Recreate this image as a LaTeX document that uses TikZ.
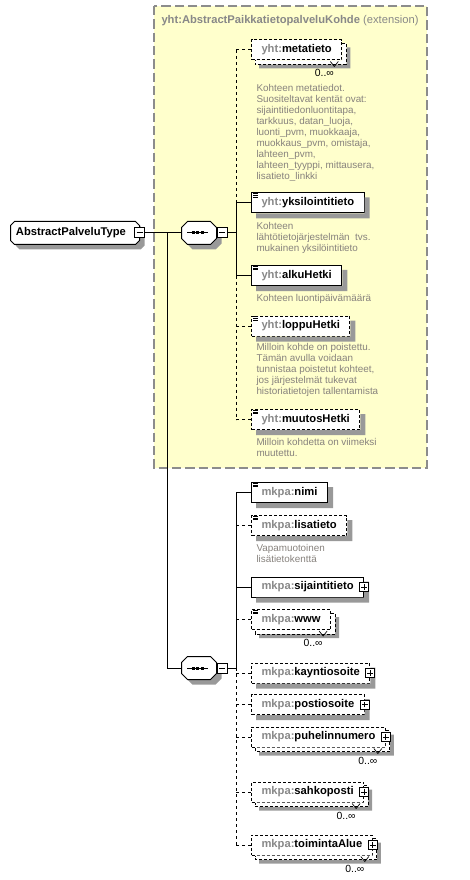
\documentclass[tikz,border=0pt]{standalone}
\usepackage{fontspec}
\setmainfont{Liberation Sans}

\definecolor{extfill}{RGB}{255,255,204}
\definecolor{extline}{RGB}{140,140,140}
\definecolor{prefixgray}{RGB}{136,136,136}
\definecolor{notegray}{RGB}{135,130,125}
\colorlet{shadowtone}{black!40}

% outline with cut corners round node #1, cut #2
\newcommand\octpath[2]{([xshift=#2]#1.north west) -- ([xshift=-#2]#1.north east)
  -- ([yshift=-#2]#1.north east) -- ([yshift=#2]#1.south east) -- ([xshift=-#2]#1.south east)
  -- ([xshift=#2]#1.south west) -- ([yshift=#2]#1.south west) -- ([yshift=-#2]#1.north west) -- cycle}
% shadow strips right of and below a box
\newcommand\dropshade[1]{%
  \fill[shadowtone] ([shift={(0,5)}]#1.north east) rectangle ([shift={(5,5)}]#1.south east)
    ([shift={(5,0)}]#1.south west) rectangle ([shift={(5,5)}]#1.south east);}
% second copy and shadow behind an element that may repeat
\newcommand\stackback[1]{%
  \fill[shadowtone] ([shift={(4,8)}]#1.north east) rectangle ([shift={(8,8)}]#1.south east)
    ([shift={(8,4)}]#1.south west) rectangle ([shift={(8,8)}]#1.south east);
  \fill[white] ([shift={(0,4)}]#1.north east) rectangle ([shift={(4,4)}]#1.south east)
    ([shift={(4,0)}]#1.south west) rectangle ([shift={(4,4)}]#1.south east);
  \draw[optional] ([shift={(0,4)}]#1.north east) -| ([shift={(4,4)}]#1.south east) -| ([shift={(4,0)}]#1.south west);
  \draw[line width=0.5pt] ([shift={(-12,1)}]#1.south east) -- ++(4,5) -- ++(4,-5);}
% small documentation mark in the corner of a box
\newcommand\docmark[1]{%
  \foreach \dy in {1.3,3,4.7}
    \draw[line width=0.5pt] ([shift={(2,\dy)}]#1.north west) -- ++(5,0);}
% dots of a sequence compositor
\newcommand\seqmark[1]{%
  \draw ([xshift=-9pt]#1.center) -- ([xshift=6.4pt]#1.center);
  \foreach \dx in {-6,-1.5,3}
    \fill ([shift={(\dx-1.5,-1.5)}]#1.center) rectangle ([shift={(\dx+1.5,1.5)}]#1.center);}

\begin{document}
\begin{tikzpicture}[x=0.75pt, y=-0.75pt, line width=0.75pt,
    elem/.style={draw, fill=white, anchor=west, minimum height=15pt, inner xsep=7.5pt, inner ysep=0pt,
      font=\fontsize{8.4pt}{10pt}\selectfont\bfseries},
    optional/.style={dash pattern=on 2.25pt off 1.5pt},
    conn dash/.style={dash pattern=on 2.25pt off 2.25pt},
    note/.style={anchor=north west, inner sep=0pt, align=left, text=notegray,
      font=\fontsize{7.4pt}{8.25pt}\selectfont},
    mult/.style={anchor=east, inner sep=0pt, font=\fontsize{7.8pt}{9pt}\selectfont},
    pmbox/.style={draw, fill=white, minimum size=7.5pt, inner sep=0pt},
    minus/.style={pmbox, path picture={
      \draw ([xshift=1.5pt]path picture bounding box.west) -- ([xshift=-1.5pt]path picture bounding box.east);}},
    plus/.style={pmbox, minimum size=6.75pt, path picture={
      \draw ([xshift=1.2pt]path picture bounding box.west) -- ([xshift=-1.2pt]path picture bounding box.east)
            ([yshift=1.2pt]path picture bounding box.south) -- ([yshift=-1.2pt]path picture bounding box.north);}},
    typebox/.style={minimum width=96pt, minimum height=16.5pt, text width=88.5pt,
      inner xsep=3.75pt, inner ysep=0pt, align=left, font=\fontsize{8.4pt}{10pt}\selectfont\bfseries},
    seq/.style={minimum width=25.5pt, minimum height=16.5pt, inner sep=0pt}]
  \useasboundingbox (0,0) rectangle (470,880);

  % Extension frame
  \draw[extline, fill=extfill, line width=0.9pt, dash pattern=on 7pt off 3pt] (154,6) rectangle (427,468);
  \node[anchor=base west, inner sep=0pt, text=prefixgray, font=\fontsize{8.4pt}{10pt}\selectfont] (exttitle)
    at (161,23.5) {\textbf{yht:AbstractPaikkatietopalveluKohde} (extension)};

  % Type and sequences
  \node[typebox] (ptype-s) at (80,238) {};
  \fill[shadowtone] \octpath{ptype-s}{3pt};
  \node[typebox] (ptype-f) at (75,233) {};
  \draw[fill=white] \octpath{ptype-f}{3pt};
  \node[typebox] (ptype) at (75,233) {AbstractPalveluType};
  \node[minus] (ptype-m) at (ptype.east) {};
  \foreach \s/\y in {seqA/233, seqB/668} {
    \node[seq] (\s-s) at (204,\y+5) {};
    \fill[shadowtone] \octpath{\s-s}{4.5pt};
    \node[seq] (\s) at (199,\y) {};
    \draw[fill=white] \octpath{\s}{4.5pt};
    \seqmark{\s}
    \node[minus, anchor=west] (\s-m) at (\s.east) {};
  }
  \coordinate (busL) at (167,233);
  \coordinate (busA) at (236,233);
  \coordinate (busB) at (236,668);

  % yht elements
  \node[elem, optional] (meta) at (251,50) {\textcolor{prefixgray}{yht:}metatieto};
  \stackback{meta}
  \node[mult] (meta-m) at ([shift={(-8,22.5)}]meta.east) {0..∞};
  \node[note] (meta-n) at (256,84.3) {Kohteen metatiedot.\\Suositeltavat kentät ovat:\\sijaintitiedonluontitapa,\\
    tarkkuus, datan\_luoja,\\luonti\_pvm, muokkaaja,\\muokkaus\_pvm, omistaja,\\lahteen\_pvm,\\
    lahteen\_tyyppi, mittausera,\\lisatieto\_linkki};

  \node[elem] (yksi) at (251,203) {\textcolor{prefixgray}{yht:}yksilointitieto};
  \dropshade{yksi}
  \docmark{yksi}
  \node[note] (yksi-n) at (256,222.3) {Kohteen\\lähtötietojärjestelmän\ \ tvs.\\mukainen yksilöintitieto};

  \node[elem] (alku) at (251,275.5) {\textcolor{prefixgray}{yht:}alkuHetki};
  \dropshade{alku}
  \docmark{alku}
  \node[note] (alku-n) at (256,294.3) {Kohteen luontipäivämäärä};

  \node[elem, optional] (loppu) at (251,326) {\textcolor{prefixgray}{yht:}loppuHetki};
  \dropshade{loppu}
  \docmark{loppu}
  \node[note] (loppu-n) at (256,343.3) {Milloin kohde on poistettu.\\Tämän avulla voidaan\\
    tunnistaa poistetut kohteet,\\jos järjestelmät tukevat\\historiatietojen tallentamista};

  \node[elem, optional] (muutos) at (251,419.5) {\textcolor{prefixgray}{yht:}muutosHetki};
  \dropshade{muutos}
  \docmark{muutos}
  \node[note] (muutos-n) at (256,438.3) {Milloin kohdetta on viimeksi\\muutettu.};

  % mkpa elements
  \node[elem] (nimi) at (251,492.5) {\textcolor{prefixgray}{mkpa:}nimi};
  \dropshade{nimi}
  \docmark{nimi}
  \node[elem, optional] (lisa) at (251,525.5) {\textcolor{prefixgray}{mkpa:}lisatieto};
  \dropshade{lisa}
  \docmark{lisa}
  \node[note] (lisa-n) at (256,544.3) {Vapamuotoinen\\lisätietokenttä};
  \node[elem] (sij) at (251,587) {\textcolor{prefixgray}{mkpa:}sijaintitieto};
  \dropshade{sij}
  \node[plus] (sij-p) at (sij.east) {};
  \node[elem, optional] (www) at (251,619.5) {\textcolor{prefixgray}{mkpa:}www};
  \stackback{www}
  \docmark{www}
  \node[mult] (www-m) at ([shift={(-8,23.5)}]www.east) {0..∞};
  \node[elem, optional] (kaynti) at (251,673) {\textcolor{prefixgray}{mkpa:}kayntiosoite};
  \dropshade{kaynti}
  \node[plus] (kaynti-p) at (kaynti.east) {};
  \node[elem, optional] (posti) at (251,704.5) {\textcolor{prefixgray}{mkpa:}postiosoite};
  \dropshade{posti}
  \node[plus] (posti-p) at (posti.east) {};
  \node[elem, optional] (puhel) at (251,737) {\textcolor{prefixgray}{mkpa:}puhelinnumero};
  \stackback{puhel}
  \node[plus] (puhel-p) at (puhel.east) {};
  \node[mult] (puhel-m) at ([shift={(-8,24)}]puhel.east) {0..∞};
  \node[elem, optional] (sahko) at (251,792) {\textcolor{prefixgray}{mkpa:}sahkoposti};
  \stackback{sahko}
  \node[plus] (sahko-p) at (sahko.east) {};
  \node[mult] (sahko-m) at ([shift={(-8,23.5)}]sahko.east) {0..∞};
  \node[elem, optional] (toim) at (251,845) {\textcolor{prefixgray}{mkpa:}toimintaAlue};
  \stackback{toim}
  \node[plus] (toim-p) at (toim.east) {};
  \node[mult] (toim-m) at ([shift={(-8,23.5)}]toim.east) {0..∞};

  % Connectors
  \draw (ptype-m.east) -- (seqA.west);
  \draw (busL) |- (seqB.west);
  \draw (seqA-m.east) -- (busA);
  \draw (seqB-m.east) -- (busB);

  \draw[conn dash] (meta.west -| busA) -- (yksi.west -| busA);
  \draw (yksi.west -| busA) -- (alku.west -| busA);
  \draw[conn dash] (alku.west -| busA) -- (muutos.west -| busA);
  \draw[conn dash] (meta.west) -- (meta.west -| busA);
  \draw (yksi.west) -- (yksi.west -| busA);
  \draw (alku.west) -- (alku.west -| busA);
  \draw[conn dash] (loppu.west) -- (loppu.west -| busA);
  \draw[conn dash] (muutos.west) -- (muutos.west -| busA);

  \draw (nimi.west -| busB) -- (busB);
  \draw[conn dash] (busB) -- (toim.west -| busB);
  \draw (nimi.west) -- (nimi.west -| busB);
  \draw[conn dash] (lisa.west) -- (lisa.west -| busB);
  \draw (sij.west) -- (sij.west -| busB);
  \foreach \el in {www,kaynti,posti,puhel,sahko,toim}
    \draw[conn dash] (\el.west) -- (\el.west -| busB);
\end{tikzpicture}
\end{document}
